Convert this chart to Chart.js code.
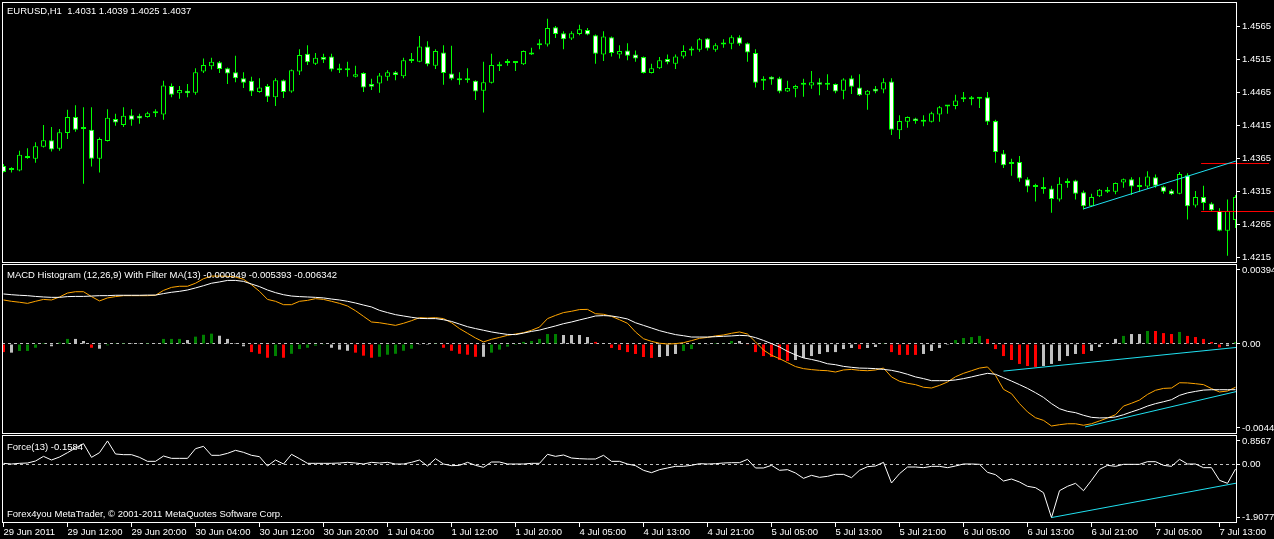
<!DOCTYPE html>
<html>
<head>
<meta charset="utf-8">
<script src="https://cdn.jsdelivr.net/npm/chart.js@4.4.1/dist/chart.umd.min.js"></script>
<style>
html,body{margin:0;padding:0;background:#000;}
body{position:relative;width:1274px;height:539px;overflow:hidden;}
canvas{position:absolute;left:0;display:block;}
.t{position:absolute;left:7px;color:#fff;font-family:"Liberation Sans",Arial,sans-serif;font-size:9.5px;line-height:1;white-space:pre;z-index:2;}
</style>
</head>
<body>
<canvas id="cPrice" width="1274" height="264" style="top:0px"></canvas>
<canvas id="cMacd" width="1274" height="170" style="top:264px"></canvas>
<canvas id="cForce" width="1274" height="104" style="top:435px"></canvas>
<div class="t" style="top:6px">EURUSD,H1  1.4031 1.4039 1.4025 1.4037</div>
<div class="t" style="top:270px">MACD Histogram (12,26,9) With Filter MA(13) -0.000949 -0.005393 -0.006342</div>
<div class="t" style="top:442px">Force(13) -0.1584</div>
<div class="t" style="top:509px">Forex4you MetaTrader, © 2001-2011 MetaQuotes Software Corp.</div>
<script>
// ---------- DATA (EURUSD H1, 155 bars) ----------
const openP = [1.4354,1.4348,1.4347,1.4369,1.4365,1.4383,1.4393,1.4380,1.4404,1.4428,
1.4411,1.4409,1.4365,1.4392,1.4425,1.4416,1.4431,1.4430,1.4428,1.4434,
1.4432,1.4475,1.4464,1.4468,1.4465,1.4497,1.4505,1.4511,1.4502,1.4496,
1.4487,1.4483,1.4466,1.4475,1.4458,1.4484,1.4467,1.4497,1.4524,1.4509,
1.4519,1.4520,1.4500,1.4499,1.4489,1.4495,1.4478,1.4479,1.4489,1.4496,
1.4490,1.4513,1.4512,1.4535,1.4506,1.4526,1.4494,1.4484,1.4484,1.4483,
1.4468,1.4480,1.4508,1.4513,1.4511,1.4508,1.4526,1.4537,1.4538,1.4564,
1.4555,1.4547,1.4554,1.4560,1.4552,1.4523,1.4549,1.4523,1.4529,1.4523,
1.4519,1.4495,1.4502,1.4516,1.4509,1.4520,1.4529,1.4530,1.4547,1.4530,
1.4538,1.4539,1.4549,1.4540,1.4525,1.4483,1.4489,1.4487,1.4467,1.4471,
1.4477,1.4476,1.4481,1.4477,1.4478,1.4468,1.4487,1.4473,1.4462,1.4471,
1.4470,1.4482,1.4408,1.4421,1.4426,1.4421,1.4421,1.4432,1.4444,1.4445,
1.4455,1.4455,1.4456,1.4458,1.4422,1.4373,1.4357,1.4360,1.4334,1.4323,
1.4322,1.4320,1.4303,1.4331,1.4332,1.4314,1.4293,1.4308,1.4315,1.4315,
1.4329,1.4334,1.4325,1.4323,1.4337,1.4323,1.4317,1.4312,1.4340,1.4294,
1.4307,1.4297,1.4286,1.4256,1.4272];
const highP = [1.4357,1.4352,1.4377,1.4381,1.4390,1.4416,1.4413,1.4410,1.4439,1.4446,
1.4443,1.4443,1.4397,1.4440,1.4433,1.4443,1.4440,1.4433,1.4436,1.4440,
1.4483,1.4479,1.4475,1.4478,1.4502,1.4517,1.4518,1.4513,1.4503,1.4521,
1.4496,1.4489,1.4487,1.4478,1.4487,1.4485,1.4500,1.4531,1.4537,1.4525,
1.4524,1.4524,1.4509,1.4512,1.4506,1.4496,1.4486,1.4495,1.4499,1.4498,
1.4518,1.4525,1.4551,1.4543,1.4531,1.4537,1.4536,1.4496,1.4502,1.4484,
1.4512,1.4524,1.4512,1.4516,1.4512,1.4529,1.4533,1.4546,1.4577,1.4566,
1.4558,1.4558,1.4568,1.4563,1.4553,1.4558,1.4550,1.4537,1.4540,1.4529,
1.4520,1.4509,1.4519,1.4523,1.4523,1.4537,1.4535,1.4548,1.4548,1.4540,
1.4546,1.4552,1.4552,1.4541,1.4531,1.4490,1.4490,1.4489,1.4483,1.4477,
1.4486,1.4498,1.4487,1.4493,1.4479,1.4487,1.4491,1.4493,1.4469,1.4475,
1.4487,1.4487,1.4431,1.4429,1.4427,1.4431,1.4436,1.4445,1.4446,1.4462,
1.4466,1.4460,1.4457,1.4466,1.4424,1.4378,1.4365,1.4369,1.4337,1.4327,
1.4337,1.4324,1.4337,1.4335,1.4333,1.4317,1.4312,1.4319,1.4322,1.4329,
1.4335,1.4337,1.4337,1.4346,1.4341,1.4324,1.4319,1.4345,1.4343,1.4316,
1.4324,1.4299,1.4290,1.4303,1.4310];
const lowP = [1.4344,1.4344,1.4346,1.4365,1.4359,1.4382,1.4376,1.4377,1.4395,1.4406,
1.4327,1.4353,1.4344,1.4391,1.4415,1.4413,1.4415,1.4418,1.4427,1.4428,
1.4424,1.4458,1.4456,1.4458,1.4462,1.4495,1.4500,1.4495,1.4478,1.4481,
1.4472,1.4460,1.4465,1.4451,1.4445,1.4457,1.4465,1.4492,1.4507,1.4507,
1.4510,1.4497,1.4495,1.4489,1.4488,1.4466,1.4469,1.4465,1.4483,1.4484,
1.4487,1.4510,1.4511,1.4505,1.4501,1.4477,1.4484,1.4477,1.4480,1.4454,
1.4435,1.4479,1.4498,1.4506,1.4498,1.4507,1.4522,1.4531,1.4535,1.4548,
1.4531,1.4545,1.4552,1.4552,1.4509,1.4513,1.4520,1.4517,1.4514,1.4512,
1.4494,1.4494,1.4501,1.4508,1.4501,1.4517,1.4521,1.4527,1.4529,1.4527,
1.4533,1.4531,1.4536,1.4512,1.4473,1.4469,1.4477,1.4464,1.4466,1.4458,
1.4459,1.4471,1.4461,1.4469,1.4464,1.4455,1.4463,1.4460,1.4439,1.4464,
1.4464,1.4401,1.4395,1.4412,1.4418,1.4414,1.4420,1.4421,1.4433,1.4440,
1.4451,1.4446,1.4442,1.4416,1.4359,1.4351,1.4339,1.4330,1.4314,1.4300,
1.4312,1.4283,1.4300,1.4321,1.4303,1.4288,1.4292,1.4307,1.4313,1.4311,
1.4321,1.4310,1.4315,1.4320,1.4321,1.4312,1.4310,1.4311,1.4273,1.4291,
1.4287,1.4285,1.4255,1.4218,1.4260];
const closeP = [1.4345,1.4349,1.4371,1.4366,1.4384,1.4393,1.4379,1.4405,1.4428,1.4409,
1.4410,1.4365,1.4395,1.4427,1.4420,1.4430,1.4424,1.4426,1.4434,1.4434,
1.4476,1.4462,1.4469,1.4464,1.4496,1.4507,1.4512,1.4501,1.4494,1.4487,
1.4480,1.4467,1.4473,1.4459,1.4484,1.4466,1.4499,1.4522,1.4511,1.4518,
1.4515,1.4500,1.4499,1.4499,1.4493,1.4473,1.4474,1.4491,1.4496,1.4492,
1.4514,1.4514,1.4535,1.4508,1.4528,1.4495,1.4486,1.4484,1.4485,1.4467,
1.4481,1.4507,1.4505,1.4510,1.4510,1.4528,1.4523,1.4537,1.4563,1.4554,
1.4546,1.4555,1.4561,1.4553,1.4524,1.4550,1.4525,1.4528,1.4521,1.4517,
1.4495,1.4502,1.4514,1.4511,1.4520,1.4528,1.4529,1.4546,1.4532,1.4537,
1.4538,1.4549,1.4539,1.4526,1.4480,1.4483,1.4485,1.4467,1.4472,1.4475,
1.4477,1.4481,1.4477,1.4477,1.4467,1.4485,1.4474,1.4461,1.4468,1.4467,
1.4481,1.4409,1.4422,1.4428,1.4422,1.4421,1.4434,1.4443,1.4444,1.4453,
1.4455,1.4455,1.4456,1.4421,1.4375,1.4355,1.4357,1.4335,1.4323,1.4322,
1.4319,1.4304,1.4327,1.4328,1.4312,1.4293,1.4307,1.4318,1.4316,1.4328,
1.4334,1.4323,1.4322,1.4338,1.4324,1.4315,1.4311,1.4342,1.4293,1.4307,
1.4298,1.4287,1.4256,1.4286,1.4307];

const macdLine = [0.00266,0.00262,0.00259,0.00257,0.00253,0.00250,0.00248,0.00248,0.00252,0.00253,
0.00253,0.00255,0.00257,0.00257,0.00259,0.00259,0.00259,0.00259,0.00260,0.00260,
0.00268,0.00275,0.00280,0.00287,0.00298,0.00310,0.00323,0.00330,0.00338,0.00338,
0.00333,0.00319,0.00305,0.00287,0.00273,0.00262,0.00255,0.00252,0.00250,0.00248,
0.00245,0.00239,0.00234,0.00227,0.00218,0.00207,0.00197,0.00179,0.00167,0.00156,
0.00149,0.00142,0.00136,0.00135,0.00135,0.00129,0.00120,0.00106,0.00092,0.00082,
0.00073,0.00064,0.00057,0.00051,0.00050,0.00058,0.00067,0.00074,0.00085,0.00096,
0.00108,0.00117,0.00128,0.00138,0.00149,0.00151,0.00149,0.00142,0.00133,0.00113,
0.00099,0.00085,0.00071,0.00060,0.00050,0.00044,0.00037,0.00037,0.00037,0.00039,
0.00041,0.00043,0.00046,0.00044,0.00034,0.00019,0.00002,-0.00016,-0.00039,-0.00058,
-0.00074,-0.00082,-0.00092,-0.00105,-0.00110,-0.00119,-0.00124,-0.00128,-0.00129,-0.00131,
-0.00135,-0.00140,-0.00149,-0.00161,-0.00175,-0.00184,-0.00195,-0.00195,-0.00195,-0.00191,
-0.00184,-0.00175,-0.00165,-0.00156,-0.00161,-0.00179,-0.00197,-0.00216,-0.00236,-0.00259,
-0.00284,-0.00317,-0.00344,-0.00358,-0.00365,-0.00379,-0.00390,-0.00393,-0.00392,-0.00388,
-0.00376,-0.00361,-0.00347,-0.00330,-0.00317,-0.00307,-0.00296,-0.00273,-0.00260,-0.00252,
-0.00245,-0.00243,-0.00243,-0.00243,-0.00243];
const macdFilter = [0.00234,0.00227,0.00222,0.00216,0.00227,0.00237,0.00234,0.00250,0.00271,0.00278,
0.00278,0.00252,0.00229,0.00245,0.00252,0.00257,0.00257,0.00257,0.00257,0.00259,
0.00285,0.00301,0.00307,0.00307,0.00323,0.00347,0.00361,0.00361,0.00360,0.00356,
0.00344,0.00315,0.00280,0.00237,0.00227,0.00209,0.00209,0.00227,0.00232,0.00241,
0.00237,0.00227,0.00216,0.00202,0.00177,0.00147,0.00117,0.00113,0.00106,0.00099,
0.00110,0.00124,0.00140,0.00138,0.00140,0.00135,0.00113,0.00082,0.00057,0.00032,
0.00011,0.00025,0.00035,0.00046,0.00053,0.00060,0.00073,0.00090,0.00135,0.00152,
0.00167,0.00174,0.00183,0.00184,0.00161,0.00158,0.00147,0.00129,0.00110,0.00064,
0.00028,0.00014,0.00004,0.00000,0.00002,0.00007,0.00018,0.00030,0.00035,0.00043,
0.00048,0.00057,0.00064,0.00053,0.00011,-0.00032,-0.00060,-0.00078,-0.00099,-0.00120,
-0.00131,-0.00136,-0.00140,-0.00142,-0.00149,-0.00138,-0.00135,-0.00140,-0.00142,-0.00138,
-0.00128,-0.00175,-0.00198,-0.00209,-0.00216,-0.00230,-0.00234,-0.00220,-0.00202,-0.00174,
-0.00156,-0.00142,-0.00128,-0.00122,-0.00167,-0.00241,-0.00264,-0.00317,-0.00361,-0.00392,
-0.00406,-0.00436,-0.00429,-0.00424,-0.00424,-0.00432,-0.00424,-0.00409,-0.00393,-0.00376,
-0.00330,-0.00315,-0.00298,-0.00268,-0.00246,-0.00236,-0.00234,-0.00206,-0.00207,-0.00211,
-0.00216,-0.00237,-0.00255,-0.00250,-0.00230];
const macdHist = [-0.00043,-0.00046,-0.00037,-0.00037,-0.00020,0.00005,-0.00012,0.00007,0.00027,0.00027,
0.00016,-0.00020,-0.00025,-0.00007,0.00004,0.00005,0.00005,0.00004,0.00005,0.00002,
0.00027,0.00027,0.00027,0.00021,0.00039,0.00049,0.00055,0.00044,0.00027,0.00005,
-0.00012,-0.00043,-0.00052,-0.00073,-0.00064,-0.00073,-0.00052,-0.00027,-0.00020,-0.00009,
-0.00004,-0.00020,-0.00030,-0.00036,-0.00046,-0.00062,-0.00073,-0.00068,-0.00057,-0.00052,
-0.00036,-0.00025,-0.00004,-0.00005,0.00004,-0.00020,-0.00036,-0.00052,-0.00057,-0.00068,
-0.00068,-0.00046,-0.00030,-0.00014,-0.00005,0.00011,0.00016,0.00027,0.00053,0.00053,
0.00048,0.00048,0.00048,0.00037,0.00011,0.00005,-0.00021,-0.00032,-0.00043,-0.00053,
-0.00069,-0.00074,-0.00069,-0.00064,-0.00053,-0.00037,-0.00027,-0.00004,-0.00002,0.00005,
0.00004,0.00016,0.00016,-0.00004,-0.00043,-0.00064,-0.00069,-0.00085,-0.00090,-0.00085,
-0.00074,-0.00064,-0.00053,-0.00043,-0.00043,-0.00027,-0.00021,-0.00027,-0.00021,-0.00016,
0.00004,-0.00043,-0.00058,-0.00058,-0.00058,-0.00053,-0.00037,-0.00021,-0.00005,0.00021,
0.00032,0.00037,0.00043,0.00027,-0.00027,-0.00064,-0.00085,-0.00106,-0.00117,-0.00122,
-0.00117,-0.00106,-0.00090,-0.00064,-0.00053,-0.00053,-0.00037,-0.00016,0.00005,0.00027,
0.00043,0.00053,0.00053,0.00069,0.00069,0.00058,0.00053,0.00064,0.00043,0.00037,
0.00027,0.00011,-0.00018,-0.00011,0.00011];
// histogram filter state: g = rising (green), r = falling (red), s = neutral (silver)
const histState = ("rsggggsggs"+"srsgggssgs"+"gggsgggsss"+"srrrgrgggg"+"gsssrrrggg"+
  "ggssgrrrrr"+"sggggggggg"+"ssssrsrrrr"+"rrsssgggsg"+"ggsrrrrrrs"+
  "sssssssrss"+"grrrrssssg"+"gggrrrrrrr"+"sssssrssss"+"gssgrrrgrr"+"rrrsg").split('');

const forceVals = [0.048,0.024,0.048,0.060,0.132,0.300,0.168,0.276,0.433,0.601,
0.757,0.264,0.433,0.8567,0.385,0.361,0.361,0.264,0.120,0.120,
0.312,0.228,0.228,0.228,0.577,0.661,0.337,0.337,0.409,0.517,
0.445,0.337,0.288,-0.048,0.168,0.024,0.373,0.216,0.048,0.048,
0.048,0.048,0.060,0.084,0.060,0.024,0.084,0.060,0.084,0.024,
0.024,0.084,0.168,-0.048,0.216,0.024,-0.036,-0.024,0.084,-0.024,
-0.096,0.096,0.096,0.024,0.024,0.024,0.048,0.048,0.373,0.300,
0.349,0.240,0.216,0.204,0.204,0.337,0.120,0.120,0.024,-0.036,
-0.204,-0.288,-0.180,-0.120,-0.060,-0.060,-0.024,0.036,0.024,0.036,
0.060,0.072,0.072,0.192,-0.120,-0.120,-0.024,-0.204,-0.180,-0.300,
-0.493,-0.385,-0.457,-0.421,-0.349,-0.349,-0.469,-0.204,-0.072,-0.048,
0.084,-0.661,-0.325,-0.084,-0.084,-0.108,-0.060,-0.060,-0.108,-0.048,
0.024,0.024,0.012,-0.276,-0.361,-0.589,-0.517,-0.625,-0.781,-0.829,
-1.010,-1.9077,-0.938,-0.781,-0.673,-0.938,-0.565,-0.168,-0.024,-0.060,
0.012,0.012,0.012,0.108,0.108,-0.024,-0.060,0.192,0.024,0.024,
-0.108,-0.108,-0.565,-0.673,-0.1584];

// drawn objects (bar index, value)
const priceTrendX = [135, 154.19], priceTrendY = [1.4289, 1.4362];
const redLine1X = [149.7, 158.2], redLine1Y = [1.43577, 1.43577];
const redLine2X = [149.7, 158.8], redLine2Y = [1.42850, 1.42850];
const macdTrend1X = [125, 154.19], macdTrend1Y = [-0.00144, -0.00018];
const macdTrend2X = [135.2, 154.19], macdTrend2Y = [-0.00441, -0.00252];
const forceTrendX = [131, 154.19], forceTrendY = [-1.9077, -0.661];

// axis ticks
const priceTicks = [1.4565,1.4515,1.4465,1.4415,1.4365,1.4315,1.4265,1.4215];
const macdTicks = [0.00394, 0, -0.00446];
const macdTickLabels = ['0.00394','0.00','-0.00446'];
const forceTicks = [0.8567, 0, -1.9077];
const forceTickLabels = ['0.8567','0.00','-1.9077'];
const xTickBars = [0,8,16,24,32,40,48,56,64,72,80,88,96,104,112,120,128,136,144,152];
const xTickLabels = ["29 Jun 2011","29 Jun 12:00","29 Jun 20:00","30 Jun 04:00","30 Jun 12:00",
 "30 Jun 20:00","1 Jul 04:00","1 Jul 12:00","1 Jul 20:00","4 Jul 05:00","4 Jul 13:00",
 "4 Jul 21:00","5 Jul 05:00","5 Jul 13:00","5 Jul 21:00","6 Jul 05:00","6 Jul 13:00",
 "6 Jul 21:00","7 Jul 05:00","7 Jul 13:00"];

// visible windows
const X_MIN = -0.1875, X_MAX = 154.1875;
const P_MIN = 1.420697, P_MAX = 1.460243;
const M_MIN = -0.0047847, M_MAX = 0.004253;
const F_MIN = -2.1035, F_MAX = 1.0700;

// ---------- STYLE ----------
const FONT = {family:'"Liberation Sans", Arial, sans-serif', size:9.5};
const GREEN = '#00ff00', CYAN = '#20e0f0';
const HIST_COLORS = {g:'#008000', r:'#ff0000', s:'#c0c0c0'};
Chart.defaults.font.family = FONT.family;
Chart.defaults.color = '#ffffff';

const framePlugin = {
  id:'frame',
  afterDatasetsDraw(chart){
    const {ctx, chartArea:a} = chart;
    ctx.save();
    ctx.strokeStyle = '#ffffff'; ctx.lineWidth = 1;
    ctx.strokeRect(a.left+0.5, a.top+0.5, a.right-a.left-1, a.bottom-a.top-1);
    ctx.restore();
  }
};

function pts(xs, ys){ return xs.map((x,k)=>({x:x, y:ys[k]})); }
function series(arr){ return arr.map((v,i)=>({x:i, y:v})); }

function xScale(show){
  return {
    type:'linear', min:X_MIN, max:X_MAX, offset:false, display:show,
    grid:{offset:false, drawOnChartArea:false, drawTicks:true, tickLength:4, tickColor:'#ffffff', color:'#ffffff'},
    border:{display:false},
    afterBuildTicks: sc => { sc.ticks = xTickBars.map(v=>({value:v})); },
    afterFit: sc => { sc.paddingLeft = 0; sc.paddingRight = 0; if (show) sc.height = 16; },
    ticks:{autoSkip:false, maxRotation:0, minRotation:0, align:'start', padding:0, color:'#ffffff', font:FONT,
      callback:(v,i)=>xTickLabels[i]}
  };
}
function yScale(min, max, tickVals, tickLabels, zeroLine){
  return {
    type:'linear', position:'right', min:min, max:max,
    afterBuildTicks: sc => { sc.ticks = tickVals.map(v=>({value:v})); },
    afterFit: sc => { sc.width = 37; sc.paddingTop = 0; sc.paddingBottom = 0; },
    grid:{drawOnChartArea:zeroLine, drawTicks:true, tickLength:3, tickColor:'#ffffff', tickBorderDash:[], lineWidth:1,
      color: c => (zeroLine && c.tick && c.tick.value === 0) ? '#c0c0c0' : 'rgba(0,0,0,0)'},
    border:{display:false, dash:[3,3]},
    ticks:{autoSkip:false, padding:2, color:'#ffffff', font:FONT, callback:(v,i)=>tickLabels[i]}
  };
}
const baseOpts = {responsive:false, animation:false, events:[],
  plugins:{legend:{display:false}, tooltip:{enabled:false}}};
function lineDs(data, color, extra){
  return Object.assign({type:'line', data:data, borderColor:color, borderWidth:1, pointRadius:0,
    tension:0, fill:false, order:0}, extra||{});
}

// ---------- PRICE ----------
new Chart(document.getElementById('cPrice'), {
  type:'bar',
  data:{datasets:[
    lineDs(pts(priceTrendX, priceTrendY), CYAN),
    lineDs(pts(redLine1X, redLine1Y), '#ff0000', {clip:false}),
    lineDs(pts(redLine2X, redLine2Y), '#ff0000', {clip:false}),
    {label:'body', data: openP.map((o,i)=>({x:i, y:[o, closeP[i]]})),
     backgroundColor: openP.map((o,i)=> closeP[i] > o ? '#000000' : '#ffffff'),
     borderColor:GREEN, borderWidth:1, borderSkipped:false, barThickness:5, minBarLength:2,
     grouped:false, inflateAmount:0, order:1},
    {label:'wick', data: lowP.map((l,i)=>({x:i, y:[l, highP[i]]})),
     backgroundColor:GREEN, borderWidth:0, barThickness:1, grouped:false, inflateAmount:0, order:2}
  ]},
  options:Object.assign({}, baseOpts, {
    layout:{padding:{left:2, top:2, right:0, bottom:1}},
    scales:{x:xScale(false), y:yScale(P_MIN, P_MAX, priceTicks, priceTicks.map(v=>v.toFixed(4)), false)}
  }),
  plugins:[framePlugin]
});

// ---------- MACD ----------
new Chart(document.getElementById('cMacd'), {
  type:'bar',
  data:{datasets:[
    lineDs(pts(macdTrend1X, macdTrend1Y), CYAN),
    lineDs(pts(macdTrend2X, macdTrend2Y), CYAN),
    lineDs(series(macdLine), '#ffffff', {order:1}),
    lineDs(series(macdFilter), '#ffa500', {order:1}),
    {label:'hist', data: series(macdHist), backgroundColor: histState.map(s=>HIST_COLORS[s]),
     borderWidth:0, barThickness:3, grouped:false, inflateAmount:0, order:2}
  ]},
  options:Object.assign({}, baseOpts, {
    layout:{padding:{left:2, top:0, right:0, bottom:0}},
    scales:{x:xScale(false), y:yScale(M_MIN, M_MAX, macdTicks, macdTickLabels, true)}
  }),
  plugins:[framePlugin]
});

// ---------- FORCE ----------
new Chart(document.getElementById('cForce'), {
  type:'line',
  data:{datasets:[
    lineDs(pts(forceTrendX, forceTrendY), CYAN),
    lineDs(series(forceVals), '#ffffff', {order:1})
  ]},
  options:Object.assign({}, baseOpts, {
    layout:{padding:{left:2, top:0, right:0, bottom:0}},
    scales:{x:xScale(true), y:yScale(F_MIN, F_MAX, forceTicks, forceTickLabels, true)}
  }),
  plugins:[framePlugin]
});
</script>
</body>
</html>
